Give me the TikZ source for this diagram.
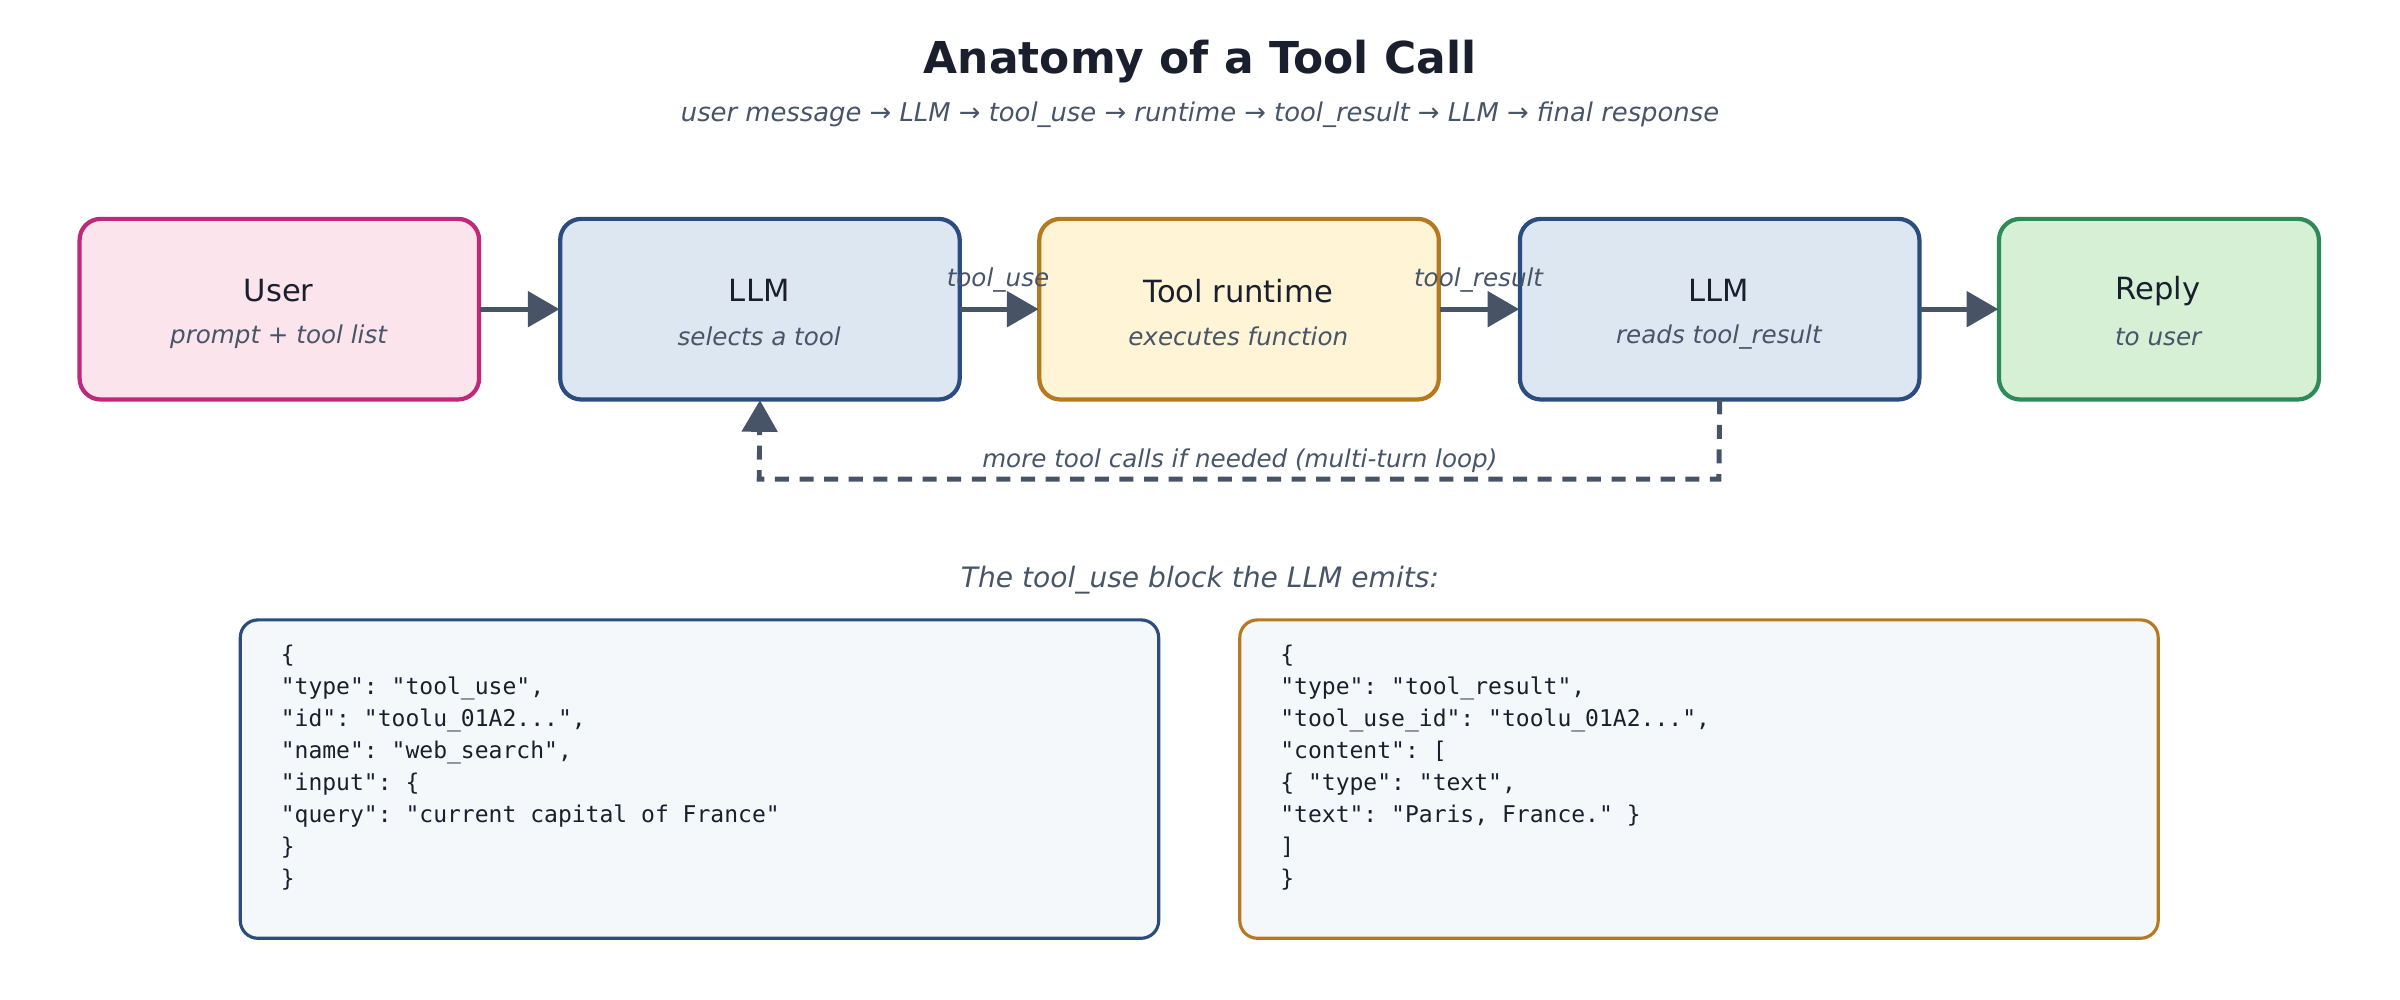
\documentclass[tikz,border=0pt]{standalone}
\usepackage{fontspec}
\setmainfont{DejaVu Sans}
\setsansfont{DejaVu Sans}
\setmonofont{DejaVu Sans Mono}
\usetikzlibrary{arrows.meta}
\definecolor{ink}{HTML}{1A1F2E}
\definecolor{sub}{HTML}{475569}
\definecolor{arr}{HTML}{475467}
\definecolor{uF}{HTML}{FCE4EC}\definecolor{uD}{HTML}{C0287A}
\definecolor{lF}{HTML}{DDE7F1}\definecolor{lD}{HTML}{2B4C7E}
\definecolor{tF}{HTML}{FFF4D6}\definecolor{tD}{HTML}{B7791F}
\definecolor{rF}{HTML}{D6F0D6}\definecolor{rD}{HTML}{2E8B57}
\definecolor{cF}{HTML}{F5F8FB}
\begin{document}
\begin{tikzpicture}[x={(0.015306cm,0)},y={(0,-0.015306cm)},
  box/.style={draw=#1,line width=1.2pt,rounded corners=6pt,inner sep=0pt},
  lab/.style={font=\fontsize{8.7}{10}\selectfont,text=ink},
  sl/.style={font=\fontsize{7}{8}\itshape\selectfont,text=sub},
  ar/.style={draw=arr,line width=1.4pt,-{Triangle[length=9pt,width=10pt]}},
  code/.style={font=\fontsize{6.55}{9.1}\ttfamily\selectfont,text=ink,align=left,anchor=north west,inner sep=0pt}]
\useasboundingbox (0,0) rectangle (1568,653.3);
\node[font=\fontsize{12.5}{14}\bfseries\selectfont,text=ink] (title) at (784,40) {Anatomy of a Tool Call};
\node[sl,font=\fontsize{7.35}{8}\itshape\selectfont] (subt) at (784,75) {user message → LLM → tool\_use → runtime → tool\_result → LLM → final response};
% boxes
\path[box=uD,fill=uF] (52,143) rectangle (313,261);
\node[inner sep=0pt,minimum width=261*0.015306cm,minimum height=118*0.015306cm] (u) at (182.5,202) {};
\path[box=lD,fill=lF] (366,143) rectangle (627,261);
\node[inner sep=0pt,minimum width=261*0.015306cm,minimum height=118*0.015306cm] (l1) at (496.5,202) {};
\path[box=tD,fill=tF] (679,143) rectangle (940,261);
\node[inner sep=0pt,minimum width=261*0.015306cm,minimum height=118*0.015306cm] (t) at (809.5,202) {};
\path[box=lD,fill=lF] (993,143) rectangle (1254,261);
\node[inner sep=0pt,minimum width=261*0.015306cm,minimum height=118*0.015306cm] (l2) at (1123.5,202) {};
\path[box=rD,fill=rF] (1306,143) rectangle (1515,261);
\node[inner sep=0pt,minimum width=209*0.015306cm,minimum height=118*0.015306cm] (r) at (1410.5,202) {};
\node[lab] (ut) at (182,190) {User}; \node[sl] (us) at (182,220) {prompt + tool list};
\node[lab] (l1t) at (496,190) {LLM}; \node[sl] (l1s) at (496,220) {selects a tool};
\node[lab] (tt) at (809,190) {Tool runtime}; \node[sl] (ts) at (809,220) {executes function};
\node[lab] (l2t) at (1123,190) {LLM}; \node[sl] (l2s) at (1123,220) {reads tool\_result};
\node[lab] (rt) at (1410,190) {Reply}; \node[sl] (rs) at (1410,220) {to user};
\draw[ar] (u.east) -- (l1.west);
\draw[ar] (l1.east) -- (t.west);
\draw[ar] (t.east) -- (l2.west);
\draw[ar] (l2.east) -- (r.west);
\node[sl] (e1) at (652,183) {tool\_use};
\node[sl] (e2) at (966,183) {tool\_result};
\coordinate (c1) at (1123,313); \coordinate (c2) at (496,313);
\draw[ar,dash pattern=on 4pt off 3pt] (l2.south) -- (c1) -- (c2) -- (l1.south);
\node[sl] (loop) at (810,301) {more tool calls if needed (multi-turn loop)};
\node[sl,font=\fontsize{8}{9}\itshape\selectfont] (cap) at (784,379) {The tool\_use block the LLM emits:};
\draw[draw=lD,line width=0.9pt,fill=cF,rounded corners=5pt] (157,405) rectangle (757,613);
\draw[draw=tD,line width=0.9pt,fill=cF,rounded corners=5pt] (810,405) rectangle (1410,613);
\node[code] (c1t) at (183,421) {\{\\"type": "tool\_use",\\"id": "toolu\_01A2...",\\"name": "web\_search",\\"input": \{\\"query": "current capital of France"\\\}\\\}};
\node[code] (c2t) at (836,421) {\{\\"type": "tool\_result",\\"tool\_use\_id": "toolu\_01A2...",\\"content": [\\\{ "type": "text",\\"text": "Paris, France." \}\\]\\\}};
\end{tikzpicture}
\end{document}
